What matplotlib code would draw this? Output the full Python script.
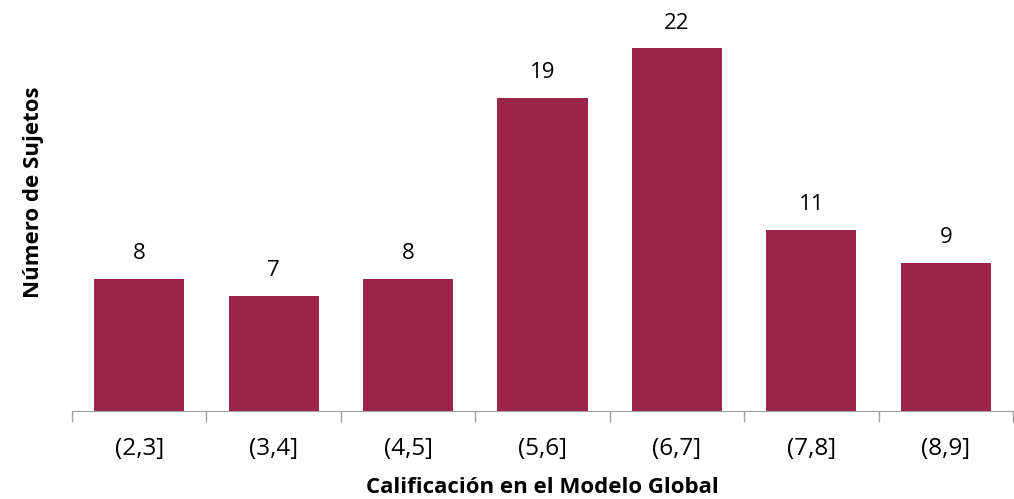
import matplotlib
matplotlib.use('Agg')
import matplotlib.pyplot as plt

categorias = ['(2,3]', '(3,4]', '(4,5]', '(5,6]', '(6,7]', '(7,8]', '(8,9]']
sujetos = [8, 7, 8, 19, 22, 11, 9]

plt.rcParams['font.family'] = ['Open Sans', 'DejaVu Sans']

fig = plt.figure(figsize=(10.14, 4.99), dpi=100)
ax = fig.add_axes([0.071, 0.1764, 0.928, 0.7926])

x = range(len(categorias))
barras = ax.bar(x, sujetos, width=0.67, color='#9B2449')
for b, v in zip(barras, sujetos):
    ax.text(b.get_x() + b.get_width() / 2, v + 0.9, str(v), ha='center', va='bottom', fontsize=16)

ax.set_xlim(-0.5, len(categorias) - 0.5)
ax.set_ylim(0, 24)
# marcas entre categorias, etiquetas centradas
ax.set_xticks([i - 0.5 for i in range(len(categorias) + 1)])
ax.set_xticklabels([])
ax.set_xticks(list(x), minor=True)
ax.set_xticklabels(categorias, minor=True, fontsize=17.5)
ax.tick_params(axis='x', which='major', length=8, color='#A0A0A0', width=1)
ax.tick_params(axis='x', which='minor', length=0, pad=19)
ax.set_yticks([])
for s in ['top', 'right', 'left']:
    ax.spines[s].set_visible(False)
ax.spines['bottom'].set_color('#A0A0A0')

ax.set_xlabel('Calificación en el Modelo Global', fontsize=16, fontweight='bold', va='center')
ax.xaxis.set_label_coords(0.5, -0.1947)
ax.set_ylabel('Número de Sujetos', fontsize=16, fontweight='bold', va='center')
ax.yaxis.set_label_coords(-0.0414, 0.5525)

fig.savefig('out.png', dpi=100)
